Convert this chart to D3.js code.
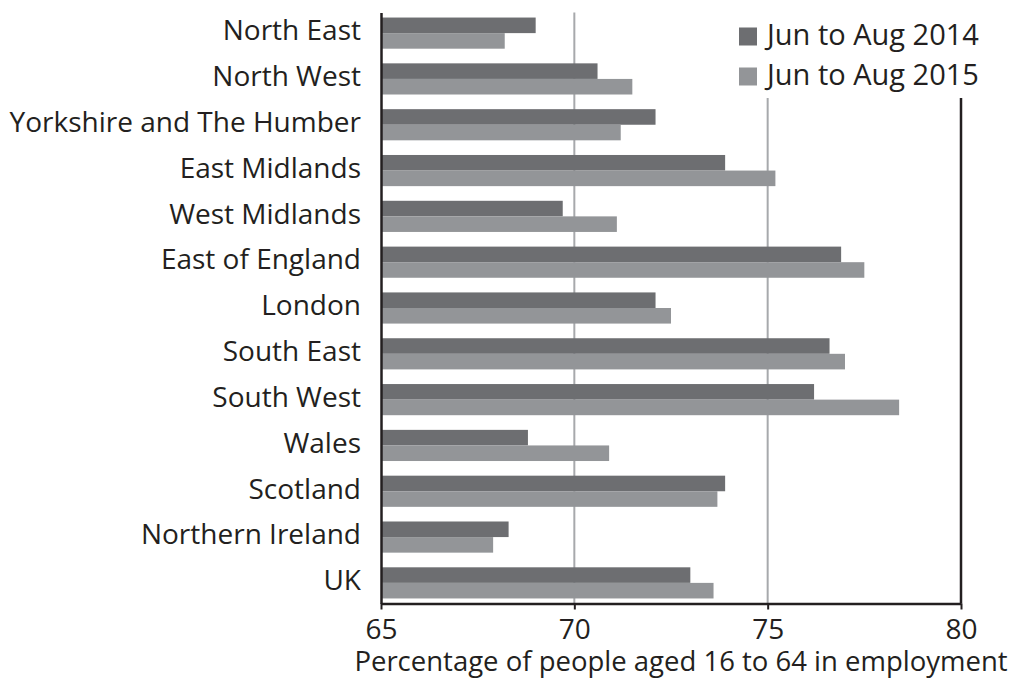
<!DOCTYPE html>
<html>
<head>
<meta charset="utf-8">
<script src="https://cdn.jsdelivr.net/npm/d3@7"></script>
<style>
  body { margin: 0; background: #fff; }
  svg text { font-family: "Open Sans", sans-serif; fill: #231f20; }
</style>
</head>
<body>
<svg width="1016" height="682"></svg>
<script>
var regions = ["North East", "North West", "Yorkshire and The Humber", "East Midlands",
  "West Midlands", "East of England", "London", "South East", "South West", "Wales",
  "Scotland", "Northern Ireland", "UK"];
var jun2014 = [69.0, 70.6, 72.1, 73.9, 69.7, 76.9, 72.1, 76.6, 76.2, 68.8, 73.9, 68.3, 73.0];
var jun2015 = [68.2, 71.5, 71.2, 75.2, 71.1, 77.5, 72.5, 77.0, 78.4, 70.9, 73.7, 67.9, 73.6];
var seriesNames = ["Jun to Aug 2014", "Jun to Aug 2015"];
var colours = ["#6d6e71", "#939598"];
var xTicks = [65, 70, 75, 80];
var xTitle = "Percentage of people aged 16 to 64 in employment";

var svg = d3.select("svg");
var plotLeft = 381, plotRight = 961, plotTop = 12.5, plotBottom = 603.5;

var x = d3.scaleLinear().domain([65, 80]).range([plotLeft, plotRight]);
var y = d3.scaleBand().domain(regions).range([plotTop, plotBottom])
  .paddingInner(0.32).paddingOuter(0.11);
var ySub = d3.scaleBand().domain([0, 1]).range([0, y.bandwidth()]);

// gridlines
svg.append("g")
  .selectAll("line")
  .data(xTicks.filter((d) => d > 65 && d < 80))
  .enter()
  .append("line")
  .attr("x1", (d) => x(d))
  .attr("x2", (d) => x(d))
  .attr("y1", plotTop)
  .attr("y2", plotBottom)
  .attr("stroke", "#a7a9ac")
  .attr("stroke-width", 2);

// right border
svg.append("line")
  .attr("x1", x(80)).attr("x2", x(80))
  .attr("y1", plotTop).attr("y2", plotBottom)
  .attr("stroke", "#231f20").attr("stroke-width", 2.5);

// bars
var data = [];
regions.forEach((r, i) => {
  data.push({ region: r, s: 0, v: jun2014[i] });
  data.push({ region: r, s: 1, v: jun2015[i] });
});

svg.append("g")
  .selectAll("rect")
  .data(data)
  .enter()
  .append("rect")
  .attr("x", x(65))
  .attr("y", (d) => y(d.region) + ySub(d.s))
  .attr("width", (d) => x(d.v) - x(65))
  .attr("height", ySub.bandwidth())
  .attr("fill", (d) => colours[d.s]);

// x axis
var xAxis = d3.axisBottom(x).tickValues(xTicks).tickSize(6).tickSizeOuter(0).tickPadding(10);
var gx = svg.append("g").attr("transform", "translate(0," + plotBottom + ")").call(xAxis);
gx.select(".domain").attr("stroke", "#231f20").attr("stroke-width", 2.5);
gx.selectAll(".tick line").attr("stroke", "#231f20").attr("stroke-width", 2);
gx.selectAll(".tick text")
  .attr("font-size", 28)
  .attr("font-family", "Open Sans, sans-serif")
  .attr("fill", "#231f20");

// y axis
var yAxis = d3.axisLeft(y).tickSize(0).tickPadding(20);
var gy = svg.append("g").attr("transform", "translate(" + plotLeft + ",0)").call(yAxis);
gy.select(".domain").attr("stroke", "#231f20").attr("stroke-width", 2.5);
gy.selectAll(".tick text")
  .attr("font-size", 28)
  .attr("font-family", "Open Sans, sans-serif")
  .attr("fill", "#231f20")
  .attr("dy", "0.26em");

// legend
var legend = svg.append("g");
legend.append("rect")
  .attr("x", 700).attr("y", 0).attr("width", 316).attr("height", 98)
  .attr("fill", "#fff");
var items = legend.selectAll("g.item")
  .data(seriesNames)
  .enter()
  .append("g")
  .attr("class", "item")
  .attr("transform", (d, i) => "translate(739," + (27.5 + i * 40) + ")");
items.append("rect")
  .attr("width", 18).attr("height", 18)
  .attr("fill", (d, i) => colours[i]);
items.append("text")
  .attr("x", 28).attr("y", 17.5)
  .attr("font-size", 29)
  .text((d) => d);

// x title
svg.append("text")
  .attr("x", 681).attr("y", 671)
  .attr("text-anchor", "middle")
  .attr("font-size", 27.5)
  .text(xTitle);
</script>
</body>
</html>
